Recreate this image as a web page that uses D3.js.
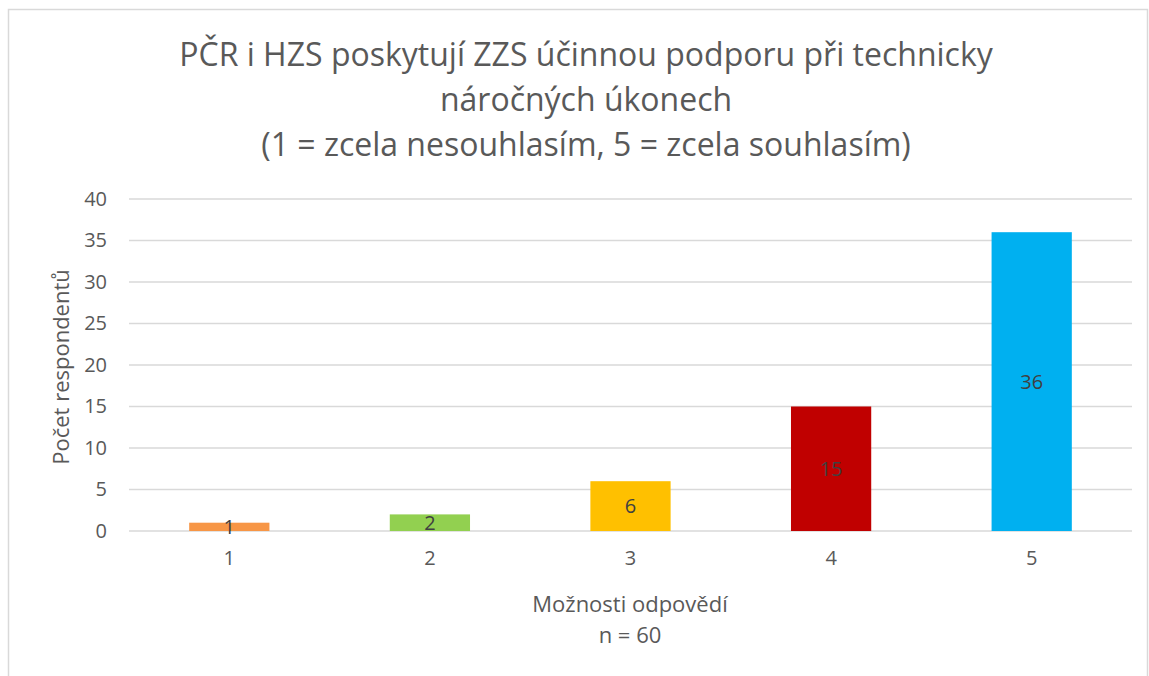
<!DOCTYPE html>
<html>
<head>
<meta charset="utf-8">
<script src="https://cdn.jsdelivr.net/npm/d3@7"></script>
<style>
  body { margin: 0; background: #fff; }
  text { font-family: "Open Sans", sans-serif; fill: #595959; }
</style>
</head>
<body>
<div id="chart"></div>
<script>
// data
var categories = ["1", "2", "3", "4", "5"];
var counts = [1, 2, 6, 15, 36];
var barColors = ["#F79646", "#92D050", "#FFC000", "#C00000", "#00B0F0"];
var yTicks = [0, 5, 10, 15, 20, 25, 30, 35, 40];
var titleLines = [
  "PČR i HZS poskytují ZZS účinnou podporu při technicky",
  "náročných úkonech",
  "(1 = zcela nesouhlasím, 5 = zcela souhlasím)"
];

var svgWidth = 1149, svgHeight = 676;
var margin = { top: 199, left: 129, right: 17, bottom: 145 };
var chartWidth = svgWidth - margin.left - margin.right;
var chartHeight = svgHeight - margin.top - margin.bottom;

var svg = d3.select("#chart").append("svg")
  .attr("width", svgWidth)
  .attr("height", svgHeight);

// outer frame
svg.append("rect")
  .attr("x", 8.5).attr("y", 9.5)
  .attr("width", 1139).attr("height", 700)
  .attr("fill", "none")
  .attr("stroke", "#d9d9d9")
  .attr("stroke-width", 1.5);

// title
svg.append("g").selectAll("text")
  .data(titleLines)
  .enter().append("text")
  .attr("x", 586)
  .attr("y", (d, i) => 55 + i * 45)
  .attr("dy", "0.35em")
  .attr("text-anchor", "middle")
  .style("font-size", "32px")
  .text(d => d);

var chartGroup = svg.append("g")
  .attr("transform", `translate(${margin.left}, ${margin.top})`);

var xScale = d3.scaleBand()
  .domain(categories)
  .range([0, chartWidth])
  .paddingInner(0.6)
  .paddingOuter(0.3);

var yScale = d3.scaleLinear()
  .domain([0, 40])
  .range([chartHeight, 0]);

// gridlines
chartGroup.append("g")
  .selectAll("line")
  .data(yTicks)
  .enter().append("line")
  .attr("x1", 0).attr("x2", chartWidth)
  .attr("y1", d => yScale(d)).attr("y2", d => yScale(d))
  .attr("stroke", "#d9d9d9")
  .attr("stroke-width", 1.3);

// y axis
var leftAxis = d3.axisLeft(yScale).tickValues(yTicks).tickSize(0).tickPadding(22);
var yAxis = chartGroup.append("g").call(leftAxis);
yAxis.select(".domain").remove();
yAxis.selectAll("text").style("font-size", "20px").attr("fill", "#595959");

// x axis
var bottomAxis = d3.axisBottom(xScale).tickSize(0).tickPadding(20);
var xAxis = chartGroup.append("g")
  .attr("transform", `translate(0, ${chartHeight})`)
  .call(bottomAxis);
xAxis.select(".domain").remove();
xAxis.selectAll("text").style("font-size", "20px").attr("fill", "#595959");

// bars
chartGroup.append("g").selectAll("rect")
  .data(counts)
  .enter().append("rect")
  .attr("x", (d, i) => xScale(categories[i]))
  .attr("y", d => yScale(d))
  .attr("width", xScale.bandwidth())
  .attr("height", d => chartHeight - yScale(d))
  .attr("fill", (d, i) => barColors[i]);

// value labels
chartGroup.append("g").selectAll("text")
  .data(counts)
  .enter().append("text")
  .attr("x", (d, i) => xScale(categories[i]) + xScale.bandwidth() / 2)
  .attr("y", d => (yScale(d) + chartHeight) / 2)
  .attr("dy", "0.36em")
  .attr("text-anchor", "middle")
  .style("font-size", "20px")
  .style("fill", "#404040")
  .text(d => d);

// axis titles
svg.append("text")
  .attr("transform", "translate(61, 367) rotate(-90)")
  .attr("text-anchor", "middle")
  .attr("dy", "0.35em")
  .style("font-size", "22px")
  .text("Počet respondentů");

svg.append("text")
  .attr("x", 630).attr("y", 604)
  .attr("dy", "0.35em")
  .attr("text-anchor", "middle")
  .style("font-size", "22px")
  .text("Možnosti odpovědí");

svg.append("text")
  .attr("x", 630).attr("y", 635)
  .attr("dy", "0.35em")
  .attr("text-anchor", "middle")
  .style("font-size", "22px")
  .text("n = 60");
</script>
</body>
</html>
